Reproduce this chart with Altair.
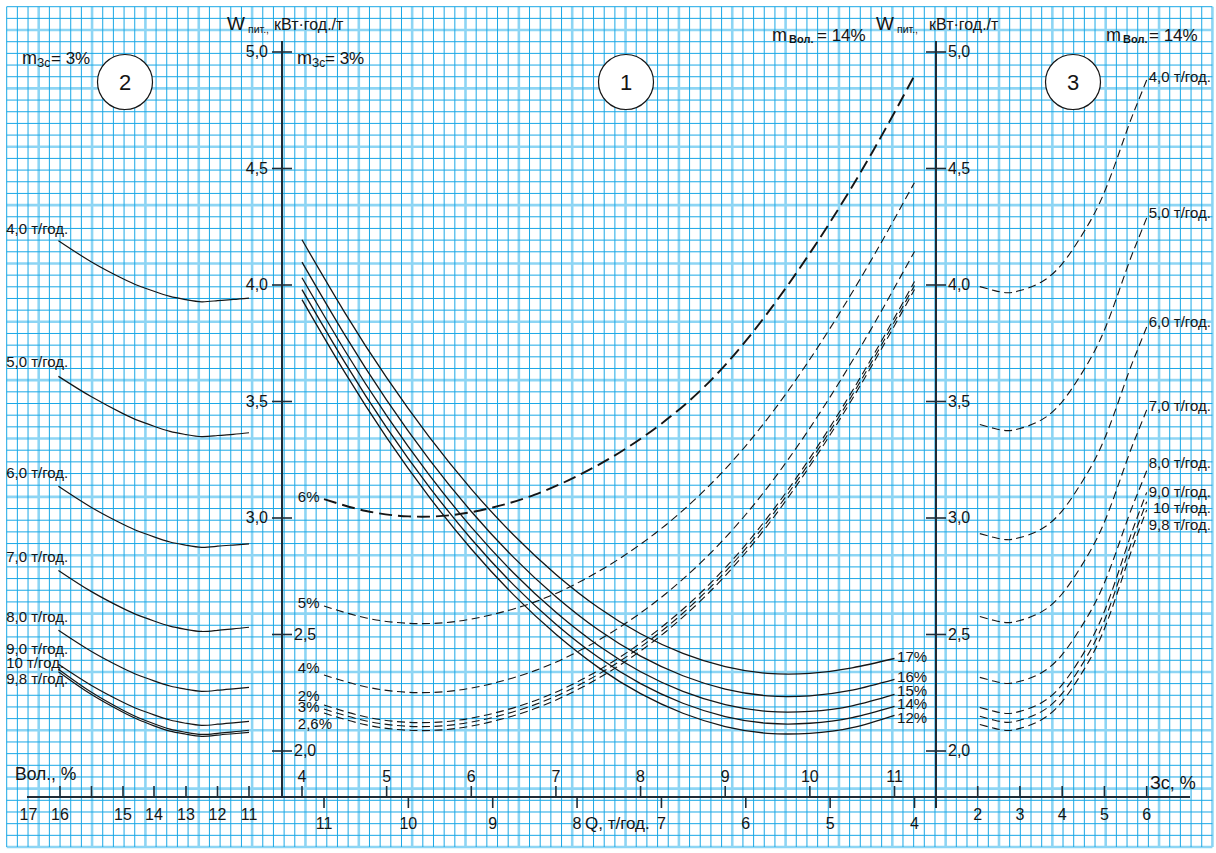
import altair as alt
import pandas as pd

# ---------------- values ----------------
# common ordinate W_пит., кВт·год./т
W_TICKS = [5.0, 4.5, 4.0, 3.5, 3.0, 2.5, 2.0]
W_TICK_TEXT = ["5,0", "4,5", "4,0", "3,5", "3,0", "2,5", "2,0"]

# panel 1 abscissas
Q_UP_TICKS = [4, 5, 6, 7, 8, 9, 10, 11]
Q_LOW_TICKS = [11, 10, 9, 8, 7, 6, 5, 4]
# panel 2 abscissa (Вол., %)
VOL_TICKS = [16, 15.5, 15, 14, 13, 12, 11]
VOL_LABELS = [17, 16, 15, 14, 13, 12, 11]
# panel 3 abscissa (Зс, %)
ZS_TICKS = [2, 3, 4, 5, 6]

# ---- panel 2 : solid curves, m_Зс = 3 %, parameter Q ----
VOL_PTS = [16.05, 15.5, 15.0, 14.5, 14.0, 13.5, 13.0, 12.5, 12.0, 11.5, 11.0]
P2_NAMES = ["4,0 т/год.", "5,0 т/год.", "6,0 т/год.", "7,0 т/год.",
            "8,0 т/год.", "9,0 т/год.", "10 т/год.", "9,8 т/год."]
P2_W = [
    [4.190, 4.099, 4.027, 3.997, 3.973, 3.951, 3.937, 3.928, 3.933, 3.938, 3.944],
    [3.608, 3.520, 3.448, 3.418, 3.394, 3.372, 3.358, 3.349, 3.354, 3.359, 3.366],
    [3.136, 3.045, 2.973, 2.943, 2.919, 2.897, 2.883, 2.874, 2.879, 2.884, 2.889],
    [2.775, 2.684, 2.612, 2.582, 2.558, 2.536, 2.522, 2.513, 2.518, 2.524, 2.531],
    [2.518, 2.427, 2.355, 2.325, 2.301, 2.279, 2.265, 2.256, 2.261, 2.267, 2.273],
    [2.372, 2.281, 2.209, 2.179, 2.155, 2.133, 2.119, 2.110, 2.115, 2.121, 2.127],
    [2.351, 2.252, 2.175, 2.143, 2.117, 2.094, 2.080, 2.071, 2.076, 2.082, 2.089],
    [2.340, 2.242, 2.166, 2.134, 2.108, 2.085, 2.072, 2.063, 2.068, 2.074, 2.080],
]
P2_LABEL_W = [4.241, 3.671, 3.195, 2.834, 2.577, 2.436, 2.376, 2.307]
P2_LABEL_VOL = 17.71

# ---- panel 1 : solid curves (upper Q scale), parameter m_Вол ----
Q_UP_PTS = [4, 4.5, 5, 5.5, 6, 6.5, 7, 7.5, 8, 8.5, 9, 9.5, 10, 10.5, 11]
P1S_NAMES = ["17%", "16%", "15%", "14%", "12%"]
P1S_W = [
    [4.194, 3.885, 3.602, 3.349, 3.124, 2.927, 2.758, 2.616, 2.503, 2.419, 2.362, 2.333, 2.333, 2.357, 2.397],
    [4.098, 3.789, 3.506, 3.253, 3.028, 2.831, 2.662, 2.520, 2.407, 2.323, 2.266, 2.237, 2.237, 2.261, 2.307],
    [4.031, 3.722, 3.439, 3.186, 2.961, 2.764, 2.595, 2.453, 2.340, 2.256, 2.199, 2.170, 2.170, 2.194, 2.243],
    [3.980, 3.671, 3.388, 3.135, 2.910, 2.713, 2.544, 2.402, 2.289, 2.205, 2.148, 2.119, 2.119, 2.143, 2.191],
    [3.937, 3.628, 3.345, 3.092, 2.867, 2.670, 2.501, 2.359, 2.246, 2.162, 2.105, 2.076, 2.076, 2.100, 2.153],
]
P1S_LABEL_W = [2.403, 2.316, 2.256, 2.201, 2.141]
P1S_LABEL_Q = 11.03

# ---- panel 1 : dashed curves (lower Q scale), parameter m_Зс ----
Q_LOW_PTS = [11, 10.5, 10, 9.5, 9, 8.5, 8, 7.5, 7, 6.5, 6, 5.5, 5, 4.5, 4]
P1D_NAMES = ["6%", "5%", "4%", "2%", "3%", "2,6%"]
P1D_W = [
    [3.081, 3.030, 3.007, 3.012, 3.045, 3.100, 3.180, 3.280, 3.405, 3.560, 3.760, 4.000, 4.270, 4.570, 4.899],
    [2.622, 2.571, 2.548, 2.553, 2.586, 2.640, 2.720, 2.825, 2.955, 3.115, 3.310, 3.545, 3.815, 4.115, 4.440],
    [2.326, 2.275, 2.252, 2.257, 2.290, 2.345, 2.425, 2.530, 2.660, 2.820, 3.015, 3.250, 3.520, 3.820, 4.144],
    [2.197, 2.146, 2.123, 2.128, 2.161, 2.216, 2.296, 2.401, 2.531, 2.691, 2.886, 3.121, 3.391, 3.691, 4.015],
    [2.180, 2.129, 2.106, 2.111, 2.144, 2.199, 2.279, 2.384, 2.514, 2.674, 2.869, 3.104, 3.374, 3.674, 3.998],
    [2.163, 2.112, 2.089, 2.094, 2.127, 2.182, 2.262, 2.367, 2.497, 2.657, 2.852, 3.087, 3.357, 3.657, 3.981],
]
P1D_LABEL_W = [3.092, 2.637, 2.358, 2.234, 2.190, 2.114]
P1D_LABEL_Q = 11.31

# ---- panel 3 : dashed curves, m_Вол = 14 %, parameter Q ----
ZS_PTS = [2.05, 2.4, 2.7, 3.0, 3.5, 4.0, 4.5, 5.0, 5.5, 5.75, 6.0]
P3_NAMES = P2_NAMES
P3_W = [
    [3.993, 3.976, 3.967, 3.976, 4.012, 4.091, 4.224, 4.399, 4.647, 4.767, 4.880],
    [3.401, 3.384, 3.375, 3.384, 3.420, 3.499, 3.632, 3.807, 4.055, 4.175, 4.288],
    [2.933, 2.916, 2.907, 2.916, 2.952, 3.031, 3.164, 3.339, 3.587, 3.707, 3.820],
    [2.577, 2.560, 2.551, 2.560, 2.596, 2.675, 2.808, 2.983, 3.231, 3.351, 3.464],
    [2.316, 2.299, 2.290, 2.299, 2.335, 2.414, 2.547, 2.722, 2.970, 3.090, 3.203],
    [2.187, 2.170, 2.161, 2.170, 2.206, 2.285, 2.418, 2.600, 2.860, 2.990, 3.110],
    [2.149, 2.132, 2.123, 2.132, 2.168, 2.247, 2.380, 2.560, 2.820, 2.950, 3.070],
    [2.114, 2.097, 2.088, 2.097, 2.133, 2.212, 2.345, 2.525, 2.785, 2.915, 3.035],
]
P3_LABEL_W = [4.893, 4.310, 3.842, 3.482, 3.238, 3.113, 3.045, 2.972]
P3_LABEL_ZS = 7.52

# ---------------- layout / style ----------------
FONT = "Liberation Sans, Arial, sans-serif"
INK = "#151515"
AXIS = "#1f2b36"
GRID_THIN = "#1aa8e6"
GRID_THICK = "#8dd5f4"
CURVE = "natural"


def sc(domain, rng):
    return alt.Scale(domain=domain, range=rng, nice=False, zero=False)


Y_W = sc([2.0, 5.0], [751, 52])
X_QUP = sc([4, 11], [302, 894.5])
X_QLOW = sc([11, 4], [324, 914.5])
X_ZS = sc([2, 6], [977.7, 1146.7])
X_VOL = sc([17, 16, 15, 14, 13, 12, 11], [28.5, 60, 123, 154, 186, 217.5, 249])
GX = sc([0, 113], [6.7, 1212.4])
GY = sc([0, 72], [6.7, 847])


def X(f, s):
    return alt.X(f, type="quantitative", scale=s, axis=None)


def Y(f, s=Y_W):
    return alt.Y(f, type="quantitative", scale=s, axis=None)


def long_df(xs, names, table, xname):
    rows = []
    for name, ws in zip(names, table):
        for i, (x, w) in enumerate(zip(xs, ws)):
            rows.append({xname: x, "w": w, "s": name, "i": i})
    return pd.DataFrame(rows)


ONE = pd.DataFrame({"k": [0]})
layers = []

# ---- graph-paper grid ----
cols = list(range(0, 114))
rows = list(range(0, 73))
gv = pd.DataFrame({"g": cols, "a": 0, "b": 72, "thick": [c % 5 == 3 for c in cols]})
gh = pd.DataFrame({"g": rows, "a": 0, "b": 113, "thick": [r % 5 == 2 for r in rows]})
for thick, col, wdt in [(True, GRID_THICK, 2.6), (False, GRID_THIN, 1.0)]:
    layers.append(alt.Chart(gv[gv.thick == thick]).mark_rule(color=col, strokeWidth=wdt).encode(
        x=X("g", GX), y=Y("a", GY), y2="b"))
    layers.append(alt.Chart(gh[gh.thick == thick]).mark_rule(color=col, strokeWidth=wdt).encode(
        y=Y("g", GY), x=X("a", GX), x2="b"))

# ---- axis lines ----
def vrule(x, y1, y2, w=2.0):
    return alt.Chart(ONE).mark_rule(color=AXIS, strokeWidth=w).encode(
        x=alt.value(x), y=alt.value(y1), y2=alt.value(y2))


layers.append(alt.Chart(ONE).mark_rule(color=AXIS, strokeWidth=2).encode(
    x=alt.value(27), x2=alt.value(1190), y=alt.value(797)))
layers.append(vrule(282, 41, 797))
layers.append(vrule(936, 41, 808))

# ---- ticks ----
wt = pd.DataFrame({"w": W_TICKS, "t": W_TICK_TEXT})
for x1, x2 in [(272, 292), (926, 946)]:
    layers.append(alt.Chart(wt).mark_rule(color=AXIS, strokeWidth=1.6).encode(
        y=Y("w"), x=alt.value(x1), x2=alt.value(x2)))


def xticks(vals, scale, y1, y2):
    return alt.Chart(pd.DataFrame({"v": vals})).mark_rule(color=AXIS, strokeWidth=1.6).encode(
        x=X("v", scale), y=alt.value(y1), y2=alt.value(y2))


layers.append(xticks(Q_UP_TICKS, X_QUP, 786, 797))
layers.append(xticks(Q_LOW_TICKS, X_QLOW, 797, 808))
layers.append(xticks(VOL_TICKS, X_VOL, 786, 797))
layers.append(xticks(ZS_TICKS, X_ZS, 786, 797))

# ---- tick labels ----
TXT = dict(font=FONT, fontSize=16, color=INK)
layers.append(alt.Chart(wt[wt.w >= 3.0]).mark_text(align="right", baseline="middle", **TXT).encode(
    y=Y("w"), x=alt.value(268), text="t:N"))
layers.append(alt.Chart(wt[wt.w < 3.0]).mark_text(align="left", baseline="middle", **TXT).encode(
    y=Y("w"), x=alt.value(294), text="t:N"))
layers.append(alt.Chart(wt).mark_text(align="left", baseline="middle", **TXT).encode(
    y=Y("w"), x=alt.value(948), text="t:N"))


def xlabels(vals, scale, ybase):
    d = pd.DataFrame({"v": vals, "t": [str(v) for v in vals]})
    return alt.Chart(d).mark_text(align="center", baseline="alphabetic", **TXT).encode(
        x=X("v", scale), y=alt.value(ybase), text="t:N")


layers.append(xlabels(Q_UP_TICKS, X_QUP, 782))
layers.append(xlabels(Q_LOW_TICKS, X_QLOW, 829))
layers.append(xlabels(VOL_LABELS, X_VOL, 820))
layers.append(xlabels(ZS_TICKS, X_ZS, 820))

# ---- curves ----
d2 = long_df(VOL_PTS, P2_NAMES, P2_W, "x")
layers.append(alt.Chart(d2).mark_line(color=INK, strokeWidth=1.2, interpolate=CURVE).encode(
    x=X("x", X_VOL), y=Y("w"), detail="s:N", order="i:Q"))

d1s = long_df(Q_UP_PTS, P1S_NAMES, P1S_W, "x")
layers.append(alt.Chart(d1s).mark_line(color=INK, strokeWidth=1.3, interpolate=CURVE).encode(
    x=X("x", X_QUP), y=Y("w"), detail="s:N", order="i:Q"))

d1d = long_df(Q_LOW_PTS, P1D_NAMES, P1D_W, "x")
layers.append(alt.Chart(d1d[d1d.s == "6%"]).mark_line(
    color=INK, strokeWidth=1.9, strokeDash=[13, 6], interpolate=CURVE).encode(
    x=X("x", X_QLOW), y=Y("w"), detail="s:N", order="i:Q"))
layers.append(alt.Chart(d1d[d1d.s != "6%"]).mark_line(
    color=INK, strokeWidth=1.1, strokeDash=[8, 4.5], interpolate=CURVE).encode(
    x=X("x", X_QLOW), y=Y("w"), detail="s:N", order="i:Q"))

d3 = long_df(ZS_PTS, P3_NAMES, P3_W, "x")
layers.append(alt.Chart(d3).mark_line(
    color=INK, strokeWidth=1.1, strokeDash=[8, 4.5], interpolate=CURVE).encode(
    x=X("x", X_ZS), y=Y("w"), detail="s:N", order="i:Q"))

# ---- curve labels ----
LT = dict(font=FONT, fontSize=15, color=INK, baseline="middle")
layers.append(alt.Chart(pd.DataFrame({"t": P2_NAMES, "w": P2_LABEL_W, "x": P2_LABEL_VOL})).mark_text(
    align="left", **LT).encode(x=X("x", X_VOL), y=Y("w"), text="t:N"))
layers.append(alt.Chart(pd.DataFrame({"t": P1S_NAMES, "w": P1S_LABEL_W, "x": P1S_LABEL_Q})).mark_text(
    align="left", **LT).encode(x=X("x", X_QUP), y=Y("w"), text="t:N"))
layers.append(alt.Chart(pd.DataFrame({"t": P1D_NAMES, "w": P1D_LABEL_W, "x": P1D_LABEL_Q})).mark_text(
    align="left", **LT).encode(x=X("x", X_QLOW), y=Y("w"), text="t:N"))
layers.append(alt.Chart(pd.DataFrame({"t": P3_NAMES, "w": P3_LABEL_W, "x": P3_LABEL_ZS})).mark_text(
    align="right", **LT).encode(x=X("x", X_ZS), y=Y("w"), text="t:N"))

# ---- panel numbers in circles ----
for num, cx in [("2", 125), ("1", 626), ("3", 1073)]:
    layers.append(alt.Chart(ONE).mark_point(shape="circle", size=3025, filled=True, fill="white",
                                            fillOpacity=1, opacity=1, stroke=INK, strokeWidth=1.2).encode(
        x=alt.value(cx), y=alt.value(82)))
    layers.append(alt.Chart(ONE).mark_text(font=FONT, fontSize=22, color=INK, align="center",
                                           baseline="middle").encode(
        x=alt.value(cx), y=alt.value(83), text=alt.value(num)))

# ---- titles and notes ----
NOTES = [
    ("W", 227, 29.5, 19, "normal"), ("пит.,", 248, 32.5, 10.5, "normal"), ("кВт·год./т", 274, 29.5, 16, "normal"),
    ("W", 876, 29.5, 19, "normal"), ("пит.,", 897, 32.5, 10.5, "normal"), ("кВт·год./т", 929, 29.5, 16, "normal"),
    ("m", 22, 63.5, 18, "normal"), ("Зс", 37, 67, 12, "normal"), ("= 3%", 51, 63.5, 17, "normal"),
    ("m", 297, 63.5, 18, "normal"), ("Зс", 312, 67, 12, "normal"), ("= 3%", 325, 63.5, 17, "normal"),
    ("m", 772, 40.5, 18, "normal"), ("Вол.", 789, 43, 11, "bold"), ("= 14%", 817, 40.5, 17, "normal"),
    ("m", 1106, 40.5, 18, "normal"), ("Вол.", 1123, 43, 11, "bold"), ("= 14%", 1149, 40.5, 17, "normal"),
    ("Вол., %", 15, 780, 17.5, "normal"), ("Q, т/год.", 585, 829, 17, "normal"), ("Зс, %", 1150, 789, 18, "normal"),
]
for txt, nx, ny, fs, fw in NOTES:
    layers.append(alt.Chart(ONE).mark_text(font=FONT, fontSize=fs, fontWeight=fw, color=INK, align="left",
                                           baseline="alphabetic").encode(
        x=alt.value(nx), y=alt.value(ny), text=alt.value(txt)))

chart = alt.layer(*layers).resolve_scale(x="independent", y="independent").properties(
    width=1216, height=853, padding=0, background="white",
    autosize=alt.AutoSizeParams(type="none"),
).configure_view(stroke=None)

chart.save("out.html", embed_options={"renderer": "svg", "actions": False})
